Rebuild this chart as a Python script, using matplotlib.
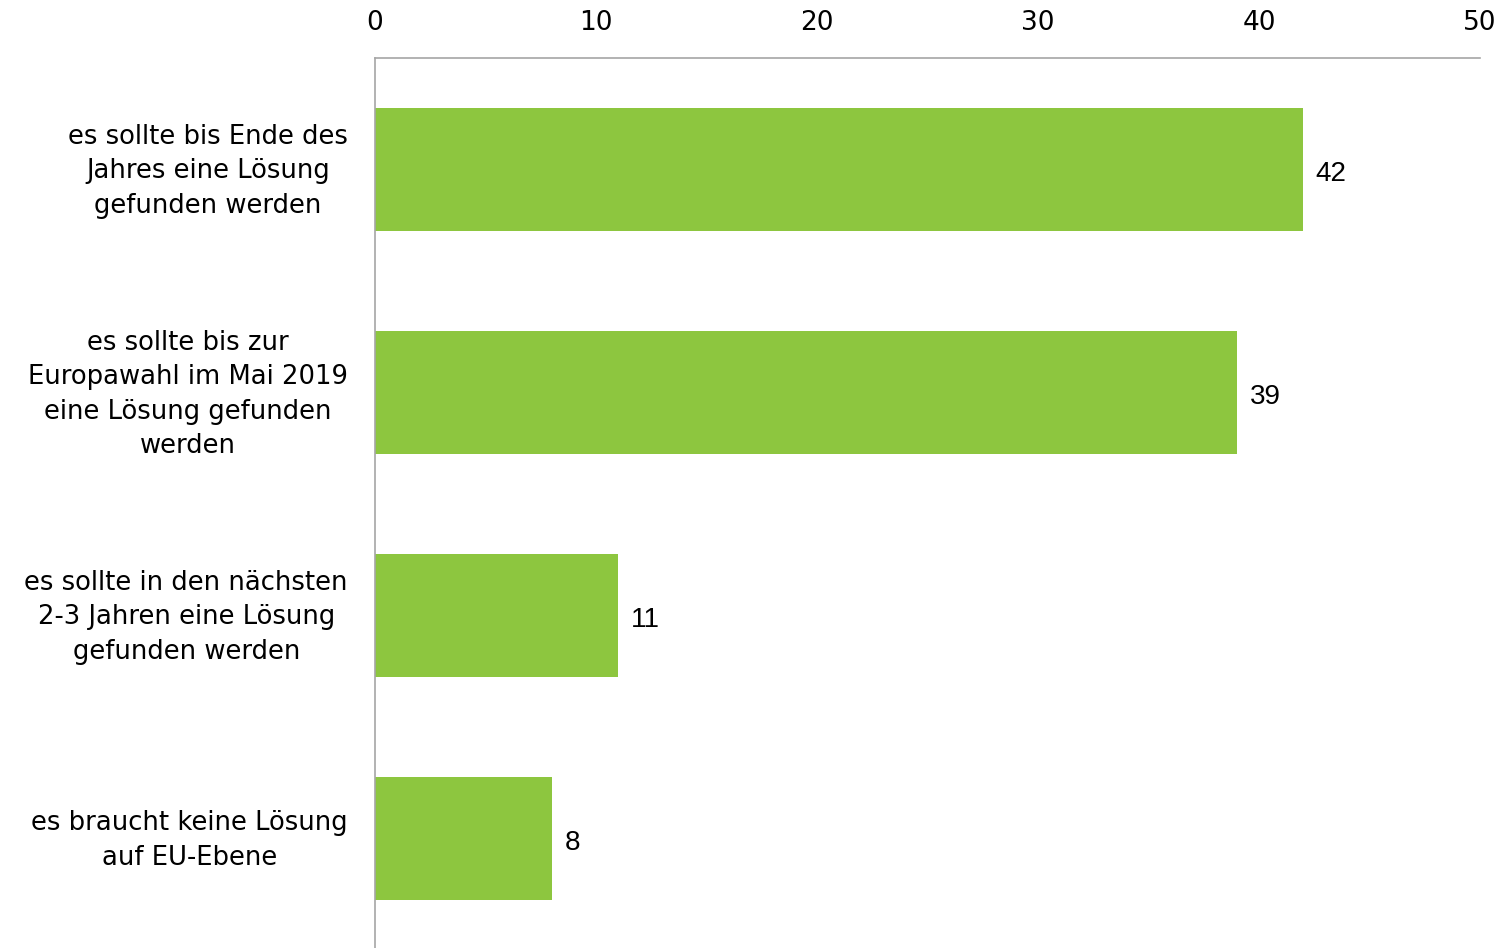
import matplotlib
matplotlib.use("Agg")
import matplotlib.pyplot as plt
from matplotlib.transforms import ScaledTranslation

categories = [
    "es sollte bis Ende des\nJahres eine Lösung\ngefunden werden",
    "es sollte bis zur\nEuropawahl im Mai 2019\neine Lösung gefunden\nwerden",
    "es sollte in den nächsten\n2-3 Jahren eine Lösung\ngefunden werden",
    "es braucht keine Lösung\nauf EU-Ebene",
]
values = [42, 39, 11, 8]
x_ticks = [0, 10, 20, 30, 40, 50]

bar_color = "#8DC63F"
spine_color = "#A6A6A6"

fig = plt.figure(figsize=(15.03, 9.48), dpi=100)
ax = fig.add_axes([375 / 1503, -2 / 948, (1480 - 375) / 1503, (950 - 58) / 948])

positions = range(len(categories))
bars = ax.barh(positions, values, height=0.55, color=bar_color, zorder=2)

ax.set_xlim(0, 50)
ax.set_ylim(len(categories) - 0.5, -0.5)
ax.set_xticks(x_ticks)
ax.set_xticklabels([str(t) for t in x_ticks], fontsize=19, family="DejaVu Sans")
ax.xaxis.tick_top()
ax.tick_params(axis="x", length=0, pad=16, colors="black")

ax.set_yticks([])
ax.tick_params(axis="y", length=0)

# category labels: centred block, right edge a fixed distance left of the axis
label_shift = ScaledTranslation(-27 / 100, -2 / 100, fig.dpi_scale_trans)
for pos, text in zip(positions, categories):
    ax.text(0, pos, text, transform=ax.get_yaxis_transform() + label_shift,
            ha="right", va="center", multialignment="center",
            fontsize=18.6, family="DejaVu Sans", linespacing=1.42, color="black")

for side in ("right", "bottom"):
    ax.spines[side].set_visible(False)
for side in ("top", "left"):
    ax.spines[side].set_color(spine_color)
    ax.spines[side].set_linewidth(1.2)

# value labels just right of each bar end
for pos, val in zip(positions, values):
    ax.annotate(str(val), xy=(val, pos), xytext=(9, -3), textcoords="offset points",
                ha="left", va="center", fontsize=20, family="Liberation Sans",
                color="black")

fig.savefig("out.png", dpi=100, facecolor="white")
